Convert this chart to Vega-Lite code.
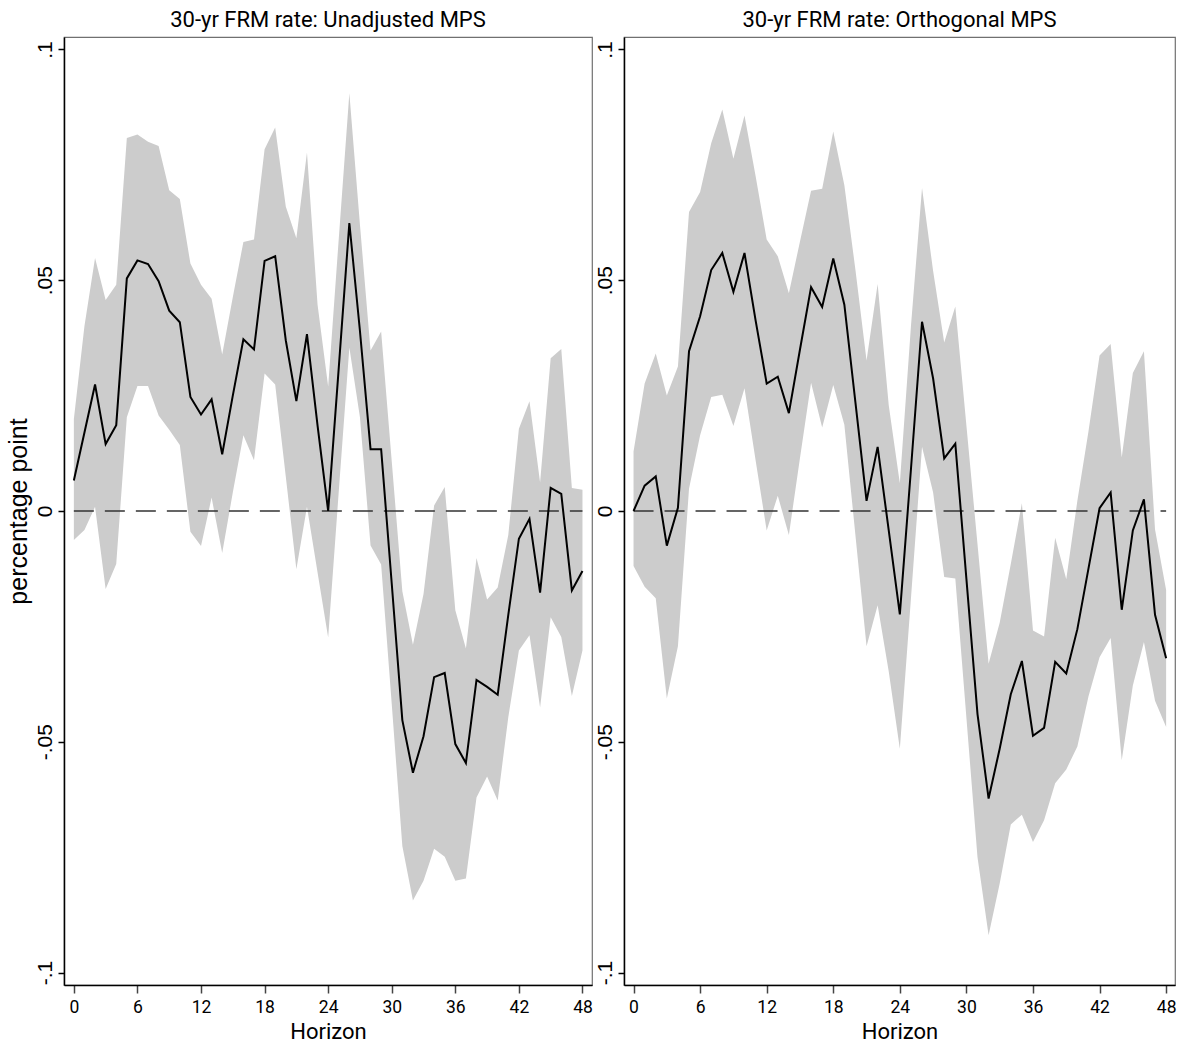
{
  "$schema": "https://vega.github.io/schema/vega-lite/v6.json",
  "background": "white",
  "padding": {"left": 5, "top": 8, "right": 0, "bottom": 0},
  "spacing": 0,
  "config": {
    "view": {"stroke": "#707070", "strokeWidth": 1.2},
    "axis": {"grid": false, "domainColor": "black", "domainWidth": 1.5, "labelColor": "black", "titleColor": "black", "titleFontWeight": "normal"},
    "axisX": {"tickSize": 8, "tickColor": "#444", "tickWidth": 1.5, "labelFont": "Roboto", "labelFontSize": 17.5, "labelPadding": 5, "labelFlush": false, "labelOverlap": false, "titleFont": "Roboto", "titleFontSize": 22, "titlePadding": 6},
    "axisY": {"tickSize": 6, "tickColor": "black", "tickWidth": 1.5, "labelFont": "Liberation Sans", "labelFontSize": 21, "labelPadding": 3, "labelAngle": -90, "labelAlign": "center", "labelBaseline": "bottom", "titleFont": "Liberation Sans", "titleFontSize": 25, "titlePadding": 3},
    "title": {"font": "Roboto", "fontSize": 22, "fontWeight": "normal", "color": "black", "frame": "group", "anchor": "middle", "baseline": "alphabetic", "offset": 5}
  },
  "datasets": {
    "zero": [{"x0": 0, "x1": 48, "y": 0}],
    "unadj": [
      {"h": 0, "b": 0.0066, "lo": -0.0063, "hi": 0.0199},
      {"h": 1, "b": 0.017, "lo": -0.0041, "hi": 0.0401},
      {"h": 2, "b": 0.0274, "lo": 0.0009, "hi": 0.0548},
      {"h": 3, "b": 0.0145, "lo": -0.0169, "hi": 0.0457},
      {"h": 4, "b": 0.0186, "lo": -0.0115, "hi": 0.049},
      {"h": 5, "b": 0.0504, "lo": 0.0203, "hi": 0.0808},
      {"h": 6, "b": 0.0543, "lo": 0.0271, "hi": 0.0816},
      {"h": 7, "b": 0.0535, "lo": 0.0271, "hi": 0.08},
      {"h": 8, "b": 0.0498, "lo": 0.0207, "hi": 0.0791},
      {"h": 9, "b": 0.0434, "lo": 0.0176, "hi": 0.0695},
      {"h": 10, "b": 0.0409, "lo": 0.0143, "hi": 0.0676},
      {"h": 11, "b": 0.0247, "lo": -0.0045, "hi": 0.0536},
      {"h": 12, "b": 0.0209, "lo": -0.0076, "hi": 0.049},
      {"h": 13, "b": 0.0242, "lo": 0.0029, "hi": 0.046},
      {"h": 14, "b": 0.0123, "lo": -0.0091, "hi": 0.0339},
      {"h": 15, "b": 0.025, "lo": 0.004, "hi": 0.0463},
      {"h": 16, "b": 0.0372, "lo": 0.0164, "hi": 0.0583},
      {"h": 17, "b": 0.035, "lo": 0.011, "hi": 0.0588},
      {"h": 18, "b": 0.0542, "lo": 0.0298, "hi": 0.0784},
      {"h": 19, "b": 0.0552, "lo": 0.0274, "hi": 0.0831},
      {"h": 20, "b": 0.037, "lo": 0.0075, "hi": 0.066},
      {"h": 21, "b": 0.0238, "lo": -0.0126, "hi": 0.0591},
      {"h": 22, "b": 0.0383, "lo": 0.0009, "hi": 0.0777},
      {"h": 23, "b": 0.0185, "lo": -0.0133, "hi": 0.0447},
      {"h": 24, "b": 0.0, "lo": -0.0274, "hi": 0.027},
      {"h": 25, "b": 0.031, "lo": 0.0042, "hi": 0.059},
      {"h": 26, "b": 0.0624, "lo": 0.0354, "hi": 0.0905},
      {"h": 27, "b": 0.039, "lo": 0.0203, "hi": 0.062},
      {"h": 28, "b": 0.0134, "lo": -0.0075, "hi": 0.0348},
      {"h": 29, "b": 0.0134, "lo": -0.0116, "hi": 0.0389},
      {"h": 30, "b": -0.0157, "lo": -0.0418, "hi": 0.0108},
      {"h": 31, "b": -0.0453, "lo": -0.0726, "hi": -0.0174},
      {"h": 32, "b": -0.0567, "lo": -0.0844, "hi": -0.029},
      {"h": 33, "b": -0.0488, "lo": -0.0801, "hi": -0.018},
      {"h": 34, "b": -0.036, "lo": -0.0732, "hi": 0.0012},
      {"h": 35, "b": -0.0351, "lo": -0.0749, "hi": 0.0052},
      {"h": 36, "b": -0.0505, "lo": -0.0801, "hi": -0.0215},
      {"h": 37, "b": -0.0546, "lo": -0.0796, "hi": -0.0298},
      {"h": 38, "b": -0.0366, "lo": -0.0621, "hi": -0.0102},
      {"h": 39, "b": -0.0381, "lo": -0.0575, "hi": -0.0192},
      {"h": 40, "b": -0.0398, "lo": -0.0627, "hi": -0.0166},
      {"h": 41, "b": -0.0225, "lo": -0.0447, "hi": -0.0052},
      {"h": 42, "b": -0.006, "lo": -0.0302, "hi": 0.0178},
      {"h": 43, "b": -0.0017, "lo": -0.0269, "hi": 0.0238},
      {"h": 44, "b": -0.0177, "lo": -0.0426, "hi": 0.0062},
      {"h": 45, "b": 0.005, "lo": -0.023, "hi": 0.0331},
      {"h": 46, "b": 0.0037, "lo": -0.0273, "hi": 0.0351},
      {"h": 47, "b": -0.0172, "lo": -0.0401, "hi": 0.005},
      {"h": 48, "b": -0.013, "lo": -0.0302, "hi": 0.0046}
    ],
    "orth": [
      {"h": 0, "b": 0.0, "lo": -0.0119, "hi": 0.0129},
      {"h": 1, "b": 0.0055, "lo": -0.0164, "hi": 0.0276},
      {"h": 2, "b": 0.0075, "lo": -0.0189, "hi": 0.0341},
      {"h": 3, "b": -0.0075, "lo": -0.0406, "hi": 0.025},
      {"h": 4, "b": 0.0007, "lo": -0.0293, "hi": 0.0313},
      {"h": 5, "b": 0.0346, "lo": 0.0048, "hi": 0.0648},
      {"h": 6, "b": 0.0422, "lo": 0.0164, "hi": 0.0691},
      {"h": 7, "b": 0.0522, "lo": 0.0247, "hi": 0.0797},
      {"h": 8, "b": 0.0559, "lo": 0.0252, "hi": 0.087},
      {"h": 9, "b": 0.0475, "lo": 0.0184, "hi": 0.0763},
      {"h": 10, "b": 0.0559, "lo": 0.0266, "hi": 0.0857},
      {"h": 11, "b": 0.0413, "lo": 0.011, "hi": 0.0726},
      {"h": 12, "b": 0.0276, "lo": -0.0042, "hi": 0.0588},
      {"h": 13, "b": 0.0291, "lo": 0.0033, "hi": 0.0552},
      {"h": 14, "b": 0.0212, "lo": -0.0052, "hi": 0.0472},
      {"h": 15, "b": 0.035, "lo": 0.0115, "hi": 0.0584},
      {"h": 16, "b": 0.0485, "lo": 0.0278, "hi": 0.0694},
      {"h": 17, "b": 0.0442, "lo": 0.0181, "hi": 0.0698},
      {"h": 18, "b": 0.0547, "lo": 0.0273, "hi": 0.0822},
      {"h": 19, "b": 0.0447, "lo": 0.0187, "hi": 0.0706},
      {"h": 20, "b": 0.0235, "lo": -0.0053, "hi": 0.0522},
      {"h": 21, "b": 0.0022, "lo": -0.0293, "hi": 0.0326},
      {"h": 22, "b": 0.0139, "lo": -0.0204, "hi": 0.0492},
      {"h": 23, "b": -0.0042, "lo": -0.0348, "hi": 0.0229},
      {"h": 24, "b": -0.0224, "lo": -0.0515, "hi": 0.006},
      {"h": 25, "b": 0.009, "lo": -0.019, "hi": 0.04},
      {"h": 26, "b": 0.041, "lo": 0.0139, "hi": 0.07},
      {"h": 27, "b": 0.0287, "lo": 0.004, "hi": 0.052},
      {"h": 28, "b": 0.0114, "lo": -0.0143, "hi": 0.0365},
      {"h": 29, "b": 0.0146, "lo": -0.0146, "hi": 0.0443},
      {"h": 30, "b": -0.0147, "lo": -0.0448, "hi": 0.0185},
      {"h": 31, "b": -0.044, "lo": -0.075, "hi": -0.0072},
      {"h": 32, "b": -0.0623, "lo": -0.0919, "hi": -0.0331},
      {"h": 33, "b": -0.0515, "lo": -0.0807, "hi": -0.0242},
      {"h": 34, "b": -0.0397, "lo": -0.0679, "hi": -0.0115},
      {"h": 35, "b": -0.0325, "lo": -0.0658, "hi": 0.0017},
      {"h": 36, "b": -0.0487, "lo": -0.0717, "hi": -0.0259},
      {"h": 37, "b": -0.047, "lo": -0.067, "hi": -0.0272},
      {"h": 38, "b": -0.0327, "lo": -0.059, "hi": -0.0058},
      {"h": 39, "b": -0.0352, "lo": -0.056, "hi": -0.0148},
      {"h": 40, "b": -0.0256, "lo": -0.051, "hi": 0.0022},
      {"h": 41, "b": -0.0125, "lo": -0.0402, "hi": 0.0172},
      {"h": 42, "b": 0.0006, "lo": -0.0317, "hi": 0.0337},
      {"h": 43, "b": 0.004, "lo": -0.0275, "hi": 0.0362},
      {"h": 44, "b": -0.0214, "lo": -0.054, "hi": 0.0116},
      {"h": 45, "b": -0.0042, "lo": -0.0378, "hi": 0.0299},
      {"h": 46, "b": 0.0025, "lo": -0.0284, "hi": 0.0346},
      {"h": 47, "b": -0.0225, "lo": -0.0411, "hi": -0.004},
      {"h": 48, "b": -0.0319, "lo": -0.0468, "hi": -0.0171}
    ]
  },
  "hconcat": [
    {
      "width": 528,
      "height": 948,
      "title": "30-yr FRM rate: Unadjusted MPS",
      "layer": [
        {
          "data": {"name": "unadj"},
          "mark": {"type": "area", "color": "#cccccc", "opacity": 1},
          "encoding": {
            "x": {"field": "h", "type": "quantitative", "title": "Horizon", "scale": {"domain": [-0.93, 48.9], "nice": false, "zero": false}, "axis": {"values": [0, 6, 12, 18, 24, 30, 36, 42, 48]}},
            "y": {"field": "lo", "type": "quantitative", "title": "percentage point", "scale": {"domain": [-0.1027, 0.1027], "nice": false, "zero": false}, "axis": {"values": [-0.1, -0.05, 0, 0.05, 0.1], "labelExpr": "(datum.value < 0 ? '-' : '') + replace(format(abs(datum.value), '.2~f'), '0.', '.')"}},
            "y2": {"field": "hi"}
          }
        },
        {
          "data": {"name": "zero"},
          "mark": {"type": "rule", "color": "#333333", "strokeWidth": 1.3, "strokeDash": [20, 11]},
          "encoding": {
            "x": {"field": "x0", "type": "quantitative", "title": "Horizon"},
            "x2": {"field": "x1"},
            "y": {"field": "y", "type": "quantitative", "title": "percentage point"}
          }
        },
        {
          "data": {"name": "unadj"},
          "mark": {"type": "line", "color": "black", "strokeWidth": 2},
          "encoding": {
            "x": {"field": "h", "type": "quantitative", "title": "Horizon"},
            "y": {"field": "b", "type": "quantitative", "title": "percentage point"}
          }
        }
      ]
    },
    {
      "width": 551,
      "height": 948,
      "title": "30-yr FRM rate: Orthogonal MPS",
      "layer": [
        {
          "data": {"name": "orth"},
          "mark": {"type": "area", "color": "#cccccc", "opacity": 1},
          "encoding": {
            "x": {"field": "h", "type": "quantitative", "title": "Horizon", "scale": {"domain": [-0.86, 48.8], "nice": false, "zero": false}, "axis": {"values": [0, 6, 12, 18, 24, 30, 36, 42, 48]}},
            "y": {"field": "lo", "type": "quantitative", "title": null, "scale": {"domain": [-0.1027, 0.1027], "nice": false, "zero": false}, "axis": {"values": [-0.1, -0.05, 0, 0.05, 0.1], "labelExpr": "(datum.value < 0 ? '-' : '') + replace(format(abs(datum.value), '.2~f'), '0.', '.')"}},
            "y2": {"field": "hi"}
          }
        },
        {
          "data": {"name": "zero"},
          "mark": {"type": "rule", "color": "#333333", "strokeWidth": 1.3, "strokeDash": [20, 11]},
          "encoding": {
            "x": {"field": "x0", "type": "quantitative", "title": "Horizon"},
            "x2": {"field": "x1"},
            "y": {"field": "y", "type": "quantitative", "title": null}
          }
        },
        {
          "data": {"name": "orth"},
          "mark": {"type": "line", "color": "black", "strokeWidth": 2},
          "encoding": {
            "x": {"field": "h", "type": "quantitative", "title": "Horizon"},
            "y": {"field": "b", "type": "quantitative", "title": null}
          }
        }
      ]
    }
  ]
}
